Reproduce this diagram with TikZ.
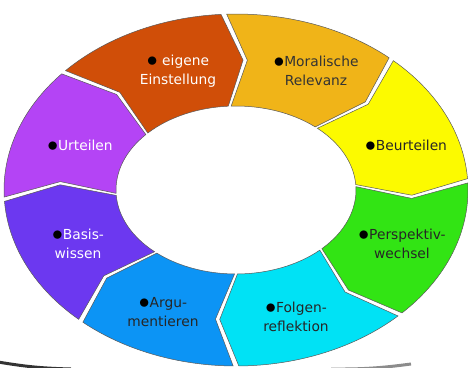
\documentclass[tikz,border=0pt]{standalone}
\usepackage{fontspec}
\setmainfont{DejaVu Sans}
\definecolor{einstellung}{RGB}{208,78,8}
\definecolor{relevanz}{RGB}{240,180,24}
\definecolor{beurteilen}{RGB}{252,250,0}
\definecolor{perspektiv}{RGB}{50,228,20}
\definecolor{folgen}{RGB}{0,226,245}
\definecolor{argu}{RGB}{12,148,245}
\definecolor{basis}{RGB}{108,56,240}
\definecolor{urteilen}{RGB}{180,68,245}
\newcommand{\bul}{\textcolor{black}{\raisebox{-1pt}{\scalebox{1.5}{$\bullet$}}}}
\begin{document}
\begin{tikzpicture}
            [x = 1pt, y = 1pt,
             seg/.style = {draw = black!65, line width = 0.5pt},
             lbl/.style = {align = center, inner sep = 0pt,
                           font = \fontsize{13.8}{18.5}\selectfont}]
            \useasboundingbox (-236,-177) rectangle (232,190);
            % shadow below the ring
            \draw[line width = 3pt, black!80] (-238,-172) to[bend right = 4] (-165,-179);
            \draw[line width = 3pt, black!45] (95,-179) to[bend right = 4] (175,-174);
            % ring of arrow segments, clockwise
            \foreach \s/\e/\col in {138/93/einstellung, 93/48/relevanz,
                                    48/3/beurteilen, 3/-45/perspektiv,
                                    -45/-90/folgen, -90/-132/argu,
                                    -132/-177/basis, -177/-222/urteilen}
            {
                \pgfmathsetmacro{\sa}{\s-0.7}
                \pgfmathsetmacro{\ea}{\e+0.7}
                \pgfmathsetmacro{\st}{\sa-6}
                \pgfmathsetmacro{\et}{\ea-6}
                \filldraw[seg, fill = \col]
                    (\sa:232 and 176)
                    arc[start angle = \sa, end angle = \ea, x radius = 232, y radius = 176]
                    -- (\et:176 and 130) -- (\ea:120 and 84)
                    arc[start angle = \ea, end angle = \sa, x radius = 120, y radius = 84]
                    -- (\st:176 and 130) -- cycle;
            }
            \node[lbl, text = white] (einst) at (-58,119) {\bul\ eigene\\Einstellung};
            \node[lbl, text = black!80] (moral) at (80,119) {\bul Moralische\\Relevanz};
            \node[lbl, text = black!85] (beurt) at (170,44) {\bul Beurteilen};
            \node[lbl, text = black!85] (persp) at (166,-54) {\bul Perspektiv-\\wechsel};
            \node[lbl, text = black!85] (folg) at (60,-127) {\bul Folgen-\\reflektion};
            \node[lbl, text = black!85] (argu) at (-73,-122) {\bul Argu-\\mentieren};
            \node[lbl, text = white] (basis) at (-158,-54) {\bul Basis-\\wissen};
            \node[lbl, text = white] (urteil) at (-156,44) {\bul Urteilen};
        \end{tikzpicture}
\end{document}
